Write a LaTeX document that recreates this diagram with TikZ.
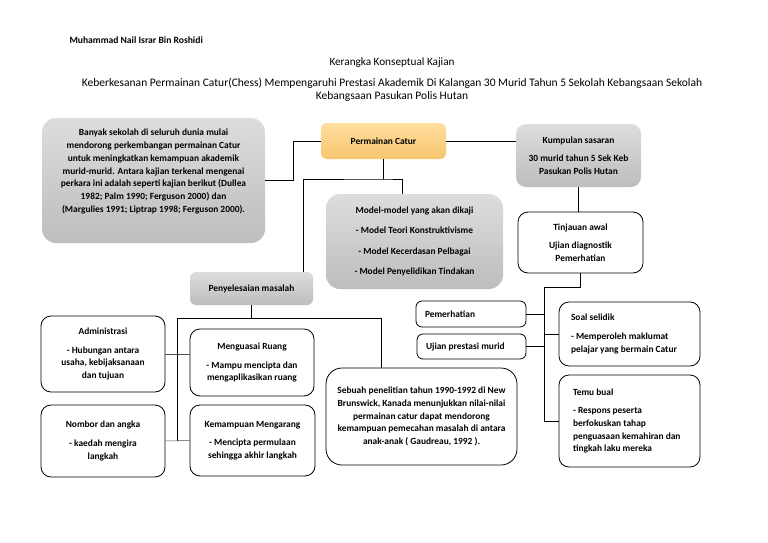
\documentclass[tikz,border=0pt]{standalone}
\usepackage{fontspec}
\setmainfont{Carlito}
\usepackage{xcolor}
\usepackage{tikz}
\usetikzlibrary{calc}
\definecolor{boxtop}{HTML}{DDDDDD}
\definecolor{boxbot}{HTML}{BDBDBD}
\definecolor{cattop}{HTML}{FFDE9E}
\definecolor{catbot}{HTML}{F7C56E}
\newcommand{\boxfont}{\bfseries\fontsize{9.4}{12.7}\selectfont}
\tikzset{
  graybox/.style={top color=boxtop, bottom color=boxbot, draw=none, rounded corners=14pt,
    align=center, font=\boxfont, inner sep=2pt},
  catbox/.style={top color=cattop, bottom color=catbot, draw=none, rounded corners=6pt,
    align=center, font=\boxfont, inner sep=2pt},
  whitebox/.style={draw=black, line width=0.8pt, fill=white, rounded corners=10pt,
    align=center, font=\boxfont, inner sep=2pt},
  leftbox/.style={whitebox, align=flush left},
  link/.style={draw=black, line width=0.8pt},
  stem/.style={draw=black, line width=1.5pt},
  fine/.style={draw=black!70, line width=0.5pt},
  every node/.style={text=black}
}

\begin{document}
\begin{tikzpicture}[x=1pt,y=-1pt]
  \useasboundingbox (0,0) rectangle (768,543);

  % header
  \node[anchor=west, font=\bfseries\fontsize{9.6}{11}\selectfont] (author) at (66,40) {Muhammad Nail Israr Bin Roshidi};
  \node[font=\fontsize{11.2}{13}\selectfont] (heading) at (392,63) {Kerangka Konseptual Kajian};
  \node[font=\fontsize{11.5}{13.5}\selectfont, align=center] (title) at (392,90)
    {Keberkesanan Permainan Catur(Chess) Mempengaruhi Prestasi Akademik Di Kalangan 30 Murid Tahun 5 Sekolah Kebangsaan Sekolah\\
     Kebangsaan Pasukan Polis Hutan};

  % upper boxes
  \node[graybox, minimum width=223, minimum height=125] (intro) at (153.5,180.5)
    {Banyak sekolah di seluruh dunia mulai\\ mendorong perkembangan permainan Catur\\
     untuk meningkatkan kemampuan akademik\\ murid-murid. Antara kajian terkenal mengenai\\
     perkara ini adalah seperti kajian berikut (Dullea\\ 1982; Palm 1990; Ferguson 2000) dan\\
     (Margulies 1991; Liptrap 1998; Ferguson 2000).\\[3pt] \strut};
  \node[catbox, minimum width=125, minimum height=36] (catur) at (383.5,141) {Permainan Catur};
  \node[graybox, rounded corners=10pt, minimum width=125, minimum height=63] (kumpulan) at (578.5,155.5)
    {Kumpulan sasaran\\[6pt] 30 murid tahun 5 Sek Keb\\ Pasukan Polis Hutan};
  \node[graybox, font=\bfseries\fontsize{9.4}{20.5}\selectfont, minimum width=177, minimum height=95] (model) at (414.5,241.5)
    {Model-model yang akan dikaji\\ - Model Teori Konstruktivisme\\
     - Model Kecerdasan Pelbagai\\ - Model Penyelidikan Tindakan};
  \node[whitebox, minimum width=125, minimum height=61] (tinjauan) at (580.5,242.5)
    {Tinjauan awal\\[6pt] Ujian diagnostik\\ Pemerhatian};
  \node[graybox, rounded corners=6pt, minimum width=123, minimum height=33] (penyelesaian) at (251.5,288.5)
    {Penyelesaian masalah};

  % right side
  \node[leftbox, text width=92, inner xsep=9, minimum height=26, rounded corners=6pt] (pemerhatian) at (471,314) {Pemerhatian};
  \node[leftbox, text width=91, inner xsep=9, minimum height=25, rounded corners=6pt] (ujian) at (471.5,346.5) {Ujian prestasi murid};
  \node[leftbox, text width=117, inner xsep=12, minimum height=64] (soal) at (629.5,334)
    {Soal selidik\\[6pt] - Memperoleh maklumat\\ pelajar yang bermain Catur};
  \node[leftbox, text width=113, inner xsep=14, minimum height=92] (temu) at (629.5,421)
    {Temu bual\\[6pt] - Respons peserta\\ berfokuskan tahap\\ penguasaan kemahiran dan\\ tingkah laku mereka};

  % left side
  \node[whitebox, minimum width=124, minimum height=76] (admin) at (103,354)
    {Administrasi\\[6pt] - Hubungan antara\\ usaha, kebijaksanaan\\ dan tujuan};
  \node[whitebox, minimum width=124, minimum height=67] (ruang) at (252,362.5)
    {Menguasai Ruang\\[6pt] - Mampu mencipta dan\\ mengaplikasikan ruang};
  \node[whitebox, minimum width=124, minimum height=72] (nombor) at (103,441)
    {Nombor dan angka\\[6pt] - kaedah mengira\\ langkah};
  \node[whitebox, minimum width=125, minimum height=71] (karang) at (252.5,440.5)
    {Kemampuan Mengarang\\[6pt] - Mencipta permulaan\\ sehingga akhir langkah};
  \node[whitebox, rounded corners=16pt, minimum width=191, minimum height=97] (kajian) at (421.5,416.5)
    {Sebuah penelitian tahun 1990-1992 di New\\ Brunswick, Kanada menunjukkan nilai-nilai\\
     permainan catur dapat mendorong\\ kemampuan pemecahan masalah di antara\\
     anak-anak ( Gaudreau, 1992 ).};

  % connectors
  \coordinate (topsplit) at (383.5,179);
  \coordinate (rbus) at (544,287);
  \coordinate (lsplit) at (251.5,318);
  \coordinate (lbus) at (177,318);

  \draw[link] (intro.east) -- ++(28,0) |- (catur.west);
  \draw[link] (catur.east) -- (catur.east -| kumpulan.west);
  \draw[stem] (catur.south) -- (topsplit);
  \draw[link] ([xshift=52]penyelesaian.north) |- (topsplit) -| ([xshift=-12]model.north);

  \draw[link] (kumpulan.south) -- (kumpulan.south |- tinjauan.north);
  \draw[link] (tinjauan.south) |- (rbus) -- (rbus |- temu.west) -- (temu.west);
  \draw[link] (pemerhatian.east) -- (pemerhatian.east -| rbus);
  \draw[link] (ujian.east) -- (ujian.east -| rbus);
  \draw[link] (soal.west -| rbus) -- (soal.west);

  \draw[stem] (penyelesaian.south) -- (lsplit);
  \draw[link] (lbus) -| ([xshift=-40]kajian.north);
  \draw[link] (lbus) -- (lbus |- nombor.east);
  \draw[fine] (admin.east) -- (admin.east -| ruang.west);
  \draw[fine] (nombor.east) -- (karang.west);
\end{tikzpicture}
\end{document}
